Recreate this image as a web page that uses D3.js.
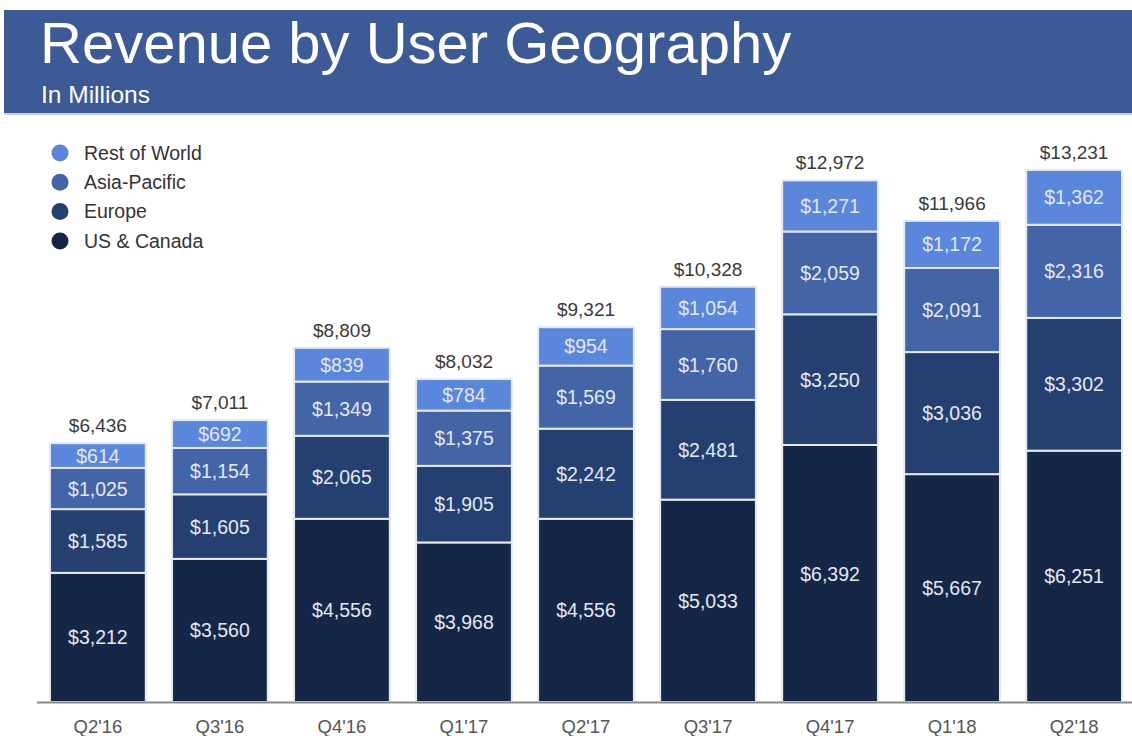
<!DOCTYPE html>
<html>
<head>
<meta charset="utf-8">
<script src="https://cdn.jsdelivr.net/npm/d3@7"></script>
<style>
  body { margin: 0; background: #fff; }
  svg { display: block; font-family: "Liberation Sans", Arial, sans-serif; }
</style>
</head>
<body>
<svg id="chart" width="1132" height="736"></svg>
<script>
const quarters = ["Q2'16", "Q3'16", "Q4'16", "Q1'17", "Q2'17", "Q3'17", "Q4'17", "Q1'18", "Q2'18"];
const usCanada = [3212, 3560, 4556, 3968, 4556, 5033, 6392, 5667, 6251];
const europe = [1585, 1605, 2065, 1905, 2242, 2481, 3250, 3036, 3302];
const asiaPacific = [1025, 1154, 1349, 1375, 1569, 1760, 2059, 2091, 2316];
const restOfWorld = [614, 692, 839, 784, 954, 1054, 1271, 1172, 1362];
const seriesNames = ["US & Canada", "Europe", "Asia-Pacific", "Rest of World"];

const colors = {
  "US & Canada": "#152647",
  "Europe": "#253f70",
  "Asia-Pacific": "#4464a8",
  "Rest of World": "#5a87dc"
};

const svg = d3.select("#chart");
const fmt = d3.format("$,");

// header band
svg.append("rect")
  .attr("x", 4).attr("y", 10)
  .attr("width", 1128).attr("height", 103)
  .attr("fill", "#3c5a96");
svg.append("rect")
  .attr("x", 4).attr("y", 113)
  .attr("width", 1128).attr("height", 2)
  .attr("fill", "#c9d1e3");
svg.append("text")
  .attr("x", 40).attr("y", 63)
  .attr("fill", "#fff")
  .attr("font-size", 58)
  .text("Revenue by User Geography");
svg.append("text")
  .attr("x", 41).attr("y", 103)
  .attr("fill", "#fff")
  .attr("font-size", 24.5)
  .text("In Millions");

// data table
let rows = quarters.map((q, i) => ({
  quarter: q,
  "US & Canada": usCanada[i],
  "Europe": europe[i],
  "Asia-Pacific": asiaPacific[i],
  "Rest of World": restOfWorld[i]
}));
let stacked = d3.stack().keys(seriesNames)(rows);
let totals = rows.map((r) => d3.sum(seriesNames, (k) => r[k]));

let x = d3.scaleBand().domain(quarters).range([50, 1122]).paddingInner(0.215).paddingOuter(0);
let y = d3.scaleLinear().domain([0, d3.max(totals)]).range([702, 170]);

// bars
let layer = svg.selectAll(".layer")
  .data(stacked)
  .enter()
  .append("g")
  .attr("class", "layer")
  .attr("fill", (d) => colors[d.key]);

layer.selectAll("rect")
  .data((d) => d)
  .enter()
  .append("rect")
  .attr("x", (d) => x(d.data.quarter))
  .attr("y", (d) => y(d[1]))
  .attr("width", x.bandwidth())
  .attr("height", (d) => y(d[0]) - y(d[1]))
  .attr("stroke", "#e4e8f0")
  .attr("stroke-width", 2);

// segment labels
layer.selectAll("text")
  .data((d) => d.map((v) => ({ v: v, key: d.key })))
  .enter()
  .append("text")
  .attr("x", (d) => x(d.v.data.quarter) + x.bandwidth() / 2)
  .attr("y", (d) => (y(d.v[0]) + y(d.v[1])) / 2)
  .attr("dy", "0.36em")
  .attr("text-anchor", "middle")
  .attr("fill", "#e3e8f2")
  .attr("font-size", 19.5)
  .text((d) => fmt(d.v[1] - d.v[0]));

// totals
svg.selectAll(".total")
  .data(quarters)
  .enter()
  .append("text")
  .attr("class", "total")
  .attr("x", (d) => x(d) + x.bandwidth() / 2)
  .attr("y", (d, i) => y(totals[i]) - 11)
  .attr("text-anchor", "middle")
  .attr("fill", "#3a3a3a")
  .attr("font-size", 19)
  .text((d, i) => fmt(totals[i]));

// baseline
svg.append("line")
  .attr("x1", 37).attr("x2", 1132)
  .attr("y1", y(0) + 0.5).attr("y2", y(0) + 0.5)
  .attr("stroke", "#8a8a8a")
  .attr("stroke-width", 2);

// x axis labels
svg.append("g")
  .attr("transform", "translate(0," + (y(0) + 1) + ")")
  .call(d3.axisBottom(x).tickSize(0).tickPadding(17))
  .call((g) => g.select(".domain").remove())
  .selectAll("text")
  .attr("font-family", "Liberation Sans, Arial, sans-serif")
  .attr("font-size", 18.5)
  .attr("fill", "#555");

// legend
let legend = svg.selectAll(".legend")
  .data(seriesNames.slice().reverse())
  .enter()
  .append("g")
  .attr("class", "legend")
  .attr("transform", (d, i) => "translate(60," + (153 + i * 29.3) + ")");
legend.append("circle")
  .attr("r", 8.5)
  .attr("fill", (d) => colors[d]);
legend.append("text")
  .attr("x", 24)
  .attr("dy", "0.35em")
  .attr("fill", "#333")
  .attr("font-size", 19.5)
  .text((d) => d);
</script>
</body>
</html>
